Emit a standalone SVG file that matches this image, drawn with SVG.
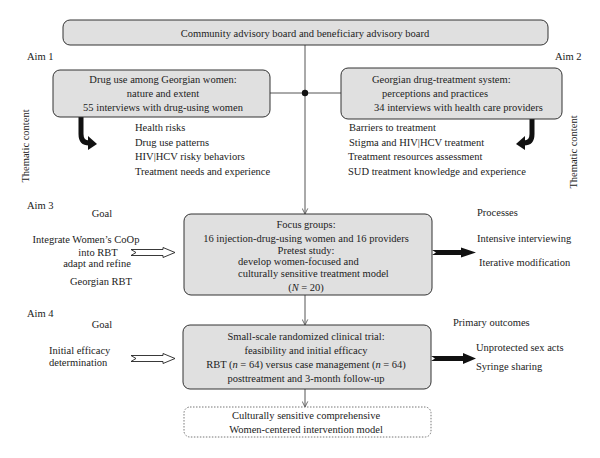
<svg xmlns="http://www.w3.org/2000/svg" width="600" height="458" viewBox="0 0 600 458">
<defs>
<style>
text{font-family:"Liberation Serif","Times New Roman",serif;font-size:10.5px;fill:#222}
.c{text-anchor:middle}
.box{fill:#e0e0e0;stroke:#333;stroke-width:1}
.dot{fill:none;stroke:#777;stroke-width:1;stroke-dasharray:1.5,1.5}
.ln{stroke:#555;stroke-width:1;fill:none}
.hollow{fill:#fff;stroke:#222;stroke-width:0.9}
</style>
<marker id="v" viewBox="0 0 10 10" refX="9" refY="5" markerWidth="7" markerHeight="7" orient="auto" markerUnits="userSpaceOnUse">
<path d="M1,1 L9,5 L1,9" fill="none" stroke="#555" stroke-width="1.2"/>
</marker>
</defs>
<rect width="600" height="458" fill="#fff"/>

<g id="connectors">
<line class="ln" x1="305" y1="45" x2="305" y2="214" marker-end="url(#v)"/>
<line class="ln" x1="270" y1="93" x2="341" y2="93"/>
<circle cx="305" cy="93" r="3.2" fill="#111"/>
<line class="ln" x1="305" y1="295" x2="305" y2="325" marker-end="url(#v)"/>
<line class="ln" x1="305" y1="389" x2="305" y2="407" marker-end="url(#v)"/>
<!-- curved thematic arrows -->
<path d="M81,117 L81,134 Q81,143 89,143" fill="none" stroke="#111" stroke-width="5"/>
<polygon points="88,136 97,144 88,150" fill="#111"/>
<path d="M532,119 L532,134 Q532,143 524,143" fill="none" stroke="#111" stroke-width="5"/>
<polygon points="525,136 516,144 525,150" fill="#111"/>
<!-- hollow goal arrows -->
<polygon class="hollow" points="131,249.5 163,249.5 163,247.5 175,252.5 163,257.5 163,255.5 131,255.5 136,252.5"/>
<polygon class="hollow" points="131,355.5 163,355.5 163,353.5 175,358.5 163,363.5 163,361.5 131,361.5 136,358.5"/>
<!-- black output arrows -->
<polygon points="432,250 461,250 461,247.5 476,252.5 461,257.5 461,255 432,255 436,252.5" fill="#111"/>
<polygon points="431,356 463,356 463,353 476,358.5 463,364 463,361 431,361 435,358.5" fill="#111"/>
</g>

<g id="board">
<rect class="box" x="63" y="20" width="485" height="25" rx="7"/>
<text class="c" x="305" y="37">Community advisory board and beneficiary advisory board</text>
</g>

<g id="aim1">
<text x="27" y="60">Aim 1</text>
<rect class="box" x="53" y="70" width="217" height="47" rx="7"/>
<text class="c" x="163" y="83">Drug use among Georgian women:</text>
<text class="c" x="163" y="97">nature and extent</text>
<text class="c" x="163" y="111">55 interviews with drug-using women</text>
<text x="135" y="131">Health risks</text>
<text x="135" y="146">Drug use patterns</text>
<text x="135" y="160">HIV|HCV risky behaviors</text>
<text x="135" y="175">Treatment needs and experience</text>
<text class="c" transform="translate(29,146) rotate(-90)">Thematic content</text>
</g>

<g id="aim2">
<text x="555" y="60">Aim 2</text>
<rect class="box" x="341" y="68" width="221" height="51" rx="7"/>
<text x="372" y="83">Georgian drug-treatment system:</text>
<text x="382" y="97">perceptions and practices</text>
<text x="374" y="111">34 interviews with health care providers</text>
<text x="349" y="131">Barriers to treatment</text>
<text x="349" y="146">Stigma and HIV|HCV treatment</text>
<text x="348" y="160">Treatment resources assessment</text>
<text x="348" y="175">SUD treatment knowledge and experience</text>
<text class="c" transform="translate(577,152) rotate(-90)">Thematic content</text>
</g>

<g id="aim3">
<text x="27" y="209">Aim 3</text>
<text class="c" x="102" y="217">Goal</text>
<text class="c" x="86" y="243">Integrate Women’s CoOp</text>
<text class="c" x="98" y="256">into RBT</text>
<text class="c" x="97" y="267">adapt and refine</text>
<text class="c" x="101" y="285">Georgian RBT</text>
</g>

<g id="focus">
<rect class="box" x="184" y="214" width="248" height="81" rx="7"/>
<text class="c" x="306" y="228">Focus groups:</text>
<text class="c" x="306" y="242">16 injection-drug-using women and 16 providers</text>
<text class="c" x="306" y="254">Pretest study:</text>
<text x="238" y="265">develop women-focused and</text>
<text x="238" y="277">culturally sensitive treatment model</text>
<text class="c" x="306" y="291">(<tspan font-style="italic">N</tspan> = 20)</text>
</g>

<g id="processes">
<text x="477" y="216">Processes</text>
<text x="477" y="242">Intensive interviewing</text>
<text x="479" y="266">Iterative modification</text>
</g>

<g id="aim4">
<text x="27" y="317">Aim 4</text>
<text class="c" x="102" y="328">Goal</text>
<text x="49" y="354">Initial efficacy</text>
<text x="49" y="366">determination</text>
</g>

<g id="trial">
<rect class="box" x="183" y="325" width="248" height="64" rx="7"/>
<text class="c" x="306" y="340">Small-scale randomized clinical trial:</text>
<text class="c" x="306" y="354">feasibility and initial efficacy</text>
<text class="c" x="306" y="368">RBT (<tspan font-style="italic">n</tspan> = 64) versus case management (<tspan font-style="italic">n</tspan> = 64)</text>
<text class="c" x="306" y="382">posttreatment and 3-month follow-up</text>
</g>

<g id="outcomes">
<text x="453" y="326">Primary outcomes</text>
<text x="476" y="351">Unprotected sex acts</text>
<text x="476" y="370">Syringe sharing</text>
</g>

<g id="model">
<rect class="dot" x="184" y="407" width="247" height="30" rx="6"/>
<text class="c" x="306" y="419">Culturally sensitive comprehensive</text>
<text class="c" x="306" y="433">Women-centered intervention model</text>
</g>
</svg>
